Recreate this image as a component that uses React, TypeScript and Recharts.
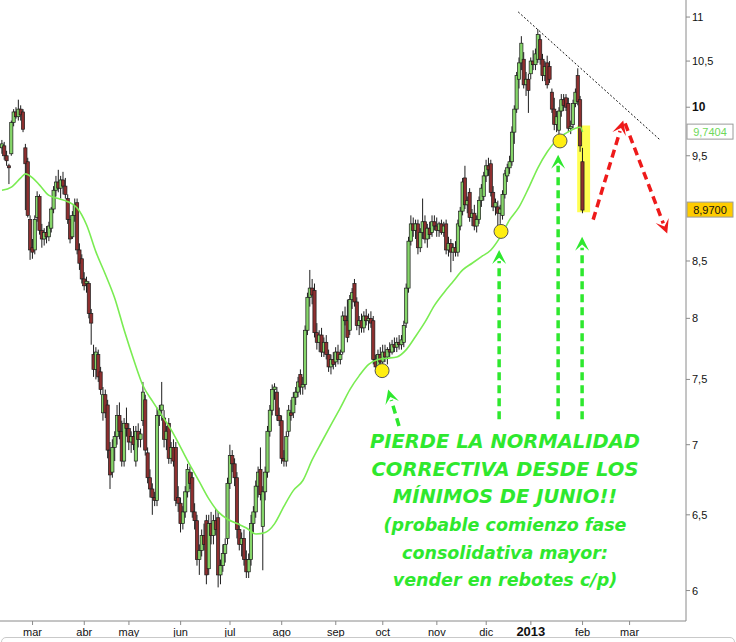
import React from "react";
import {
  ComposedChart,
  Bar,
  Line,
  XAxis,
  YAxis,
  ReferenceLine,
  ReferenceDot,
  ReferenceArea,
} from "recharts";

// trading-day index of each month start, and its label
const tickDays = [13, 35, 54, 76, 97, 119, 142, 162, 185, 206, 225, 247, 267];
const monthLabels = ["mar", "abr", "may", "jun", "jul", "ago", "sep", "oct", "nov", "dic", "2013", "feb", "mar"];
const priceTicks = [6, 6.5, 7, 7.5, 8, 8.5, 9.5, 10, 10.5, 11];

// daily candles (feb 2012 - feb 2013), one value per trading day
const opens = [
  9.58, 9.60, 9.50, 9.40, 9.52, 9.84, 9.95, 9.90, 9.98, 9.95,
  9.58, 9.44, 8.88, 8.62, 8.60, 8.90, 9.10, 8.78, 8.70, 8.76,
  8.72, 8.80, 8.98, 9.16, 9.24, 9.18, 9.26, 9.20, 9.08, 8.88,
  8.72, 8.92, 9.04, 8.60, 8.52, 8.34, 8.30, 8.30, 8.04, 7.70,
  7.58, 7.70, 7.56, 7.24, 7.38, 7.30, 6.96, 6.80, 6.98, 7.06,
  7.22, 7.10, 6.88, 7.16, 7.12, 7.02, 7.06, 6.88, 7.10, 7.04,
  7.18, 7.34, 6.94, 6.76, 6.68, 6.62, 6.60, 7.22, 7.26, 7.20,
  7.04, 7.16, 6.90, 6.98, 6.98, 6.62, 6.58, 6.44, 6.52, 6.66,
  6.80, 6.76, 6.52, 6.46, 6.20, 6.26, 6.36, 6.46, 6.14, 6.44,
  6.36, 6.46, 6.48, 6.10, 6.16, 6.24, 6.34, 6.72, 6.92, 6.86,
  6.76, 6.40, 6.30, 6.34, 6.20, 6.12, 6.20, 6.44, 6.52, 6.70,
  6.82, 6.42, 6.66, 6.80, 7.10, 7.26, 7.42, 7.40, 7.22, 7.18,
  6.90, 6.88, 7.10, 7.24, 7.24, 7.36, 7.40, 7.54, 7.44, 7.46,
  7.90, 8.18, 8.26, 8.24, 7.88, 7.80, 7.86, 7.72, 7.80, 7.70,
  7.60, 7.66, 7.64, 7.72, 7.66, 7.72, 8.02, 7.98, 7.90, 8.16,
  8.30, 8.14, 7.94, 7.98, 7.92, 8.02, 7.98, 8.00, 7.98, 7.66,
  7.60, 7.70, 7.64, 7.72, 7.68, 7.74, 7.72, 7.78, 7.76, 7.80,
  7.78, 7.80, 7.96, 8.26, 8.68, 8.84, 8.78, 8.84, 8.62, 8.76,
  8.86, 8.70, 8.80, 8.76, 8.86, 8.82, 8.78, 8.84, 8.76, 8.84,
  8.60, 8.66, 8.58, 8.62, 8.58, 8.82, 8.96, 9.28, 9.02, 9.14,
  8.90, 8.94, 8.82, 8.88, 9.06, 9.10, 9.30, 9.40, 9.42, 9.14,
  9.00, 9.00, 8.94, 8.92, 9.12, 9.30, 9.38, 9.44, 9.74, 9.98,
  10.30, 10.48, 10.52, 10.24, 10.30, 10.36, 10.50, 10.46, 10.52, 10.74,
  10.52, 10.34, 10.48, 10.44, 10.16, 9.98, 9.82, 9.76, 9.96, 10.08,
  10.10, 10.04, 9.78, 9.82, 10.04, 10.34, 10.08, 9.44,
];
const highs = [
  9.66, 9.64, 9.55, 9.42, 9.86, 9.98, 10.00, 10.08, 10.02, 9.98,
  9.62, 9.48, 8.92, 8.70, 8.92, 9.15, 9.12, 8.84, 8.80, 8.82,
  8.86, 9.00, 9.20, 9.30, 9.36, 9.30, 9.34, 9.28, 9.12, 8.92,
  8.96, 9.08, 9.08, 8.66, 8.56, 8.40, 8.36, 8.32, 8.08, 7.78,
  7.76, 7.74, 7.60, 7.44, 7.42, 7.34, 7.02, 7.04, 7.10, 7.30,
  7.32, 7.18, 7.20, 7.28, 7.16, 7.10, 7.14, 7.14, 7.16, 7.12,
  7.48, 7.38, 6.98, 6.82, 6.72, 6.66, 7.28, 7.30, 7.48, 7.26,
  7.14, 7.20, 7.02, 7.04, 7.02, 6.70, 6.62, 6.56, 6.70, 6.86,
  6.84, 6.80, 6.58, 6.50, 6.30, 6.40, 6.44, 6.50, 6.50, 6.52,
  6.50, 6.54, 6.52, 6.20, 6.30, 6.34, 6.76, 7.00, 6.96, 6.90,
  6.80, 6.44, 6.38, 6.40, 6.26, 6.24, 6.50, 6.56, 6.74, 6.84,
  6.98, 6.70, 6.84, 7.14, 7.30, 7.46, 7.47, 7.44, 7.28, 7.22,
  6.96, 7.10, 7.30, 7.34, 7.40, 7.44, 7.52, 7.58, 7.52, 7.94,
  8.22, 8.42, 8.34, 8.30, 7.96, 7.90, 7.92, 7.84, 7.86, 7.74,
  7.70, 7.72, 7.76, 7.78, 7.74, 8.06, 8.10, 8.16, 8.20, 8.26,
  8.34, 8.18, 8.02, 8.04, 8.06, 8.08, 8.04, 8.06, 8.02, 7.70,
  7.74, 7.76, 7.78, 7.78, 7.76, 7.80, 7.82, 7.84, 7.84, 7.86,
  7.86, 7.98, 8.30, 8.72, 8.92, 8.90, 8.88, 8.88, 8.80, 9.08,
  8.92, 8.84, 8.86, 8.92, 8.92, 8.90, 8.86, 8.88, 8.86, 8.88,
  8.72, 8.70, 8.66, 8.68, 8.88, 9.00, 9.28, 9.40, 9.10, 9.18,
  8.98, 9.02, 8.92, 9.10, 9.22, 9.34, 9.46, 9.48, 9.46, 9.20,
  9.08, 9.06, 9.02, 9.16, 9.36, 9.42, 9.50, 9.80, 10.02, 10.38,
  10.54, 10.78, 10.60, 10.38, 10.36, 10.54, 10.62, 10.64, 10.86, 10.80,
  10.58, 10.50, 10.56, 10.50, 10.20, 10.10, 9.96, 10.00, 10.14, 10.14,
  10.14, 10.10, 9.86, 10.08, 10.20, 10.42, 10.12, 9.58,
];
const lows = [
  9.52, 9.46, 9.40, 9.22, 9.50, 9.80, 9.88, 9.86, 9.86, 9.74,
  8.97, 8.90, 8.51, 8.52, 8.56, 8.86, 8.74, 8.62, 8.64, 8.66,
  8.68, 8.76, 8.94, 9.10, 9.14, 9.08, 9.12, 9.08, 8.84, 8.66,
  8.70, 8.86, 8.56, 8.42, 8.30, 8.24, 8.22, 8.00, 7.78, 7.52,
  7.50, 7.48, 7.38, 7.18, 7.20, 6.90, 6.68, 6.76, 6.88, 7.00,
  7.04, 6.84, 6.84, 7.06, 6.96, 6.94, 6.96, 6.84, 6.98, 6.98,
  7.14, 6.92, 6.72, 6.62, 6.50, 6.56, 6.56, 7.14, 7.18, 6.98,
  6.96, 6.86, 6.86, 6.84, 6.56, 6.52, 6.38, 6.40, 6.48, 6.62,
  6.68, 6.48, 6.40, 6.16, 6.10, 6.22, 6.26, 6.04, 6.10, 6.30,
  6.30, 6.36, 6.02, 6.04, 6.12, 6.18, 6.30, 6.68, 6.80, 6.70,
  6.34, 6.26, 6.22, 6.16, 6.08, 6.08, 6.16, 6.38, 6.48, 6.62,
  6.60, 6.13, 6.60, 6.76, 7.06, 7.22, 7.34, 7.18, 7.14, 6.86,
  6.84, 6.84, 7.06, 7.18, 7.20, 7.30, 7.36, 7.38, 7.38, 7.42,
  7.86, 8.10, 8.12, 7.84, 7.74, 7.72, 7.68, 7.68, 7.66, 7.56,
  7.54, 7.58, 7.60, 7.62, 7.62, 7.70, 7.94, 7.80, 7.86, 8.08,
  8.10, 7.90, 7.86, 7.88, 7.88, 7.94, 7.90, 7.92, 7.62, 7.56,
  7.56, 7.60, 7.60, 7.64, 7.62, 7.68, 7.70, 7.72, 7.72, 7.74,
  7.74, 7.76, 7.92, 8.22, 8.64, 8.72, 8.70, 8.56, 8.58, 8.70,
  8.66, 8.62, 8.70, 8.72, 8.78, 8.72, 8.72, 8.74, 8.72, 8.56,
  8.54, 8.40, 8.50, 8.54, 8.54, 8.78, 8.92, 8.98, 8.94, 8.86,
  8.82, 8.78, 8.76, 8.84, 9.00, 9.06, 9.24, 9.30, 9.10, 8.96,
  8.92, 8.80, 8.84, 8.88, 9.08, 9.24, 9.32, 9.40, 9.62, 9.94,
  10.20, 10.40, 10.20, 10.12, 9.94, 10.30, 10.40, 10.40, 10.48, 10.46,
  10.28, 10.28, 10.20, 10.26, 9.94, 9.76, 9.74, 9.70, 9.90, 9.96,
  9.96, 9.74, 9.72, 9.78, 10.00, 10.02, 9.54, 8.94,
];
const closes = [
  9.62, 9.50, 9.45, 9.38, 9.84, 9.95, 9.90, 9.98, 9.92, 9.77,
  9.42, 8.92, 8.60, 8.58, 8.88, 9.10, 8.78, 8.70, 8.76, 8.72,
  8.82, 8.98, 9.16, 9.24, 9.18, 9.26, 9.20, 9.12, 8.88, 8.70,
  8.92, 9.02, 8.60, 8.48, 8.34, 8.28, 8.32, 8.04, 7.96, 7.58,
  7.72, 7.52, 7.42, 7.38, 7.24, 6.96, 6.78, 6.98, 7.06, 7.22,
  7.10, 6.88, 7.16, 7.12, 7.02, 7.06, 7.00, 7.10, 7.04, 7.08,
  7.40, 6.96, 6.76, 6.68, 6.62, 6.60, 7.22, 7.26, 7.30, 7.04,
  7.10, 6.90, 6.98, 6.88, 6.60, 6.58, 6.44, 6.52, 6.66, 6.82,
  6.72, 6.52, 6.46, 6.20, 6.26, 6.36, 6.30, 6.10, 6.44, 6.36,
  6.46, 6.40, 6.10, 6.16, 6.24, 6.30, 6.72, 6.92, 6.86, 6.76,
  6.40, 6.30, 6.34, 6.20, 6.12, 6.20, 6.44, 6.52, 6.70, 6.80,
  6.64, 6.66, 6.80, 7.10, 7.26, 7.42, 7.44, 7.22, 7.18, 6.90,
  6.88, 7.06, 7.26, 7.22, 7.36, 7.40, 7.48, 7.44, 7.46, 7.90,
  8.18, 8.26, 8.20, 7.88, 7.80, 7.86, 7.72, 7.80, 7.70, 7.60,
  7.66, 7.62, 7.72, 7.66, 7.70, 8.02, 7.98, 7.84, 8.16, 8.22,
  8.14, 7.94, 7.98, 7.92, 8.02, 7.98, 8.00, 7.96, 7.66, 7.60,
  7.70, 7.64, 7.72, 7.68, 7.74, 7.72, 7.78, 7.76, 7.80, 7.78,
  7.82, 7.94, 8.26, 8.68, 8.84, 8.78, 8.84, 8.62, 8.76, 8.86,
  8.70, 8.80, 8.74, 8.86, 8.82, 8.78, 8.84, 8.76, 8.82, 8.60,
  8.66, 8.58, 8.62, 8.58, 8.84, 8.96, 9.24, 9.02, 9.06, 8.90,
  8.94, 8.82, 8.88, 9.06, 9.18, 9.30, 9.40, 9.36, 9.14, 9.00,
  9.04, 8.94, 8.98, 9.12, 9.32, 9.38, 9.44, 9.74, 9.98, 10.34,
  10.48, 10.70, 10.24, 10.30, 10.18, 10.50, 10.46, 10.58, 10.80, 10.52,
  10.34, 10.44, 10.24, 10.30, 9.98, 9.82, 9.90, 9.96, 10.08, 10.02,
  10.00, 9.78, 9.80, 10.04, 10.16, 10.06, 9.60, 8.97,
];

// moving average at these trading days
const maDays = [
  0, 4, 8, 10, 13, 16, 20, 24, 28, 32, 36, 40, 44, 48, 52, 56, 60, 64, 68, 72,
  76, 80, 84, 88, 92, 96, 100, 104, 108, 112, 116, 120, 124, 128, 132, 136, 140,
  144, 148, 152, 156, 160, 164, 168, 172, 176, 180, 184, 188, 192, 196, 200, 204,
  208, 212, 216, 220, 224, 228, 232, 236, 240, 244, 246, 247,
];
const maValues = [
  9.16, 9.19, 9.28, 9.32, 9.28, 9.21, 9.11, 9.08, 9.05, 8.99, 8.83, 8.58, 8.38,
  8.17, 7.90, 7.66, 7.45, 7.33, 7.22, 7.11, 6.98, 6.85, 6.73, 6.61, 6.52, 6.47,
  6.44, 6.41, 6.37, 6.38, 6.44, 6.56, 6.67, 6.74, 6.89, 7.02, 7.15, 7.28, 7.42,
  7.53, 7.62, 7.66, 7.67, 7.68, 7.74, 7.85, 7.97, 8.11, 8.22, 8.32, 8.42, 8.48,
  8.54, 8.60, 8.72, 8.88, 9.00, 9.18, 9.38, 9.54, 9.66, 9.73, 9.78, 9.79, 9.7404,
];

const data = closes.map((c, i) => ({ i, o: opens[i], h: highs[i], l: lows[i], c }));
const maData = maDays.map((d, k) => ({ i: d, ma: maValues[k] }));

const lastClose = closes[closes.length - 1];
const lastMa = maValues[maValues.length - 1];
const fmt = (v: number, d: number) => v.toFixed(d).replace(".", ",");

const X_MAX = 291;
const GREEN = "#2ee82e";
const RED = "#ee1a1a";

const Candle = (props: any) => {
  const { x, y, width, height, payload } = props;
  if (!payload || x == null) return null;
  const top0 = Math.min(y, y + height);
  const hh = Math.abs(height);
  const mid = x + width / 2;
  const lh = Math.log(payload.h);
  const span = lh - Math.log(payload.l);
  const toY = (p: number) => (span > 0 ? top0 + ((lh - Math.log(p)) / span) * hh : top0);
  const bTop = toY(Math.max(payload.o, payload.c));
  const bBot = toY(Math.min(payload.o, payload.c));
  const up = payload.c >= payload.o;
  return (
    <g>
      <line x1={mid} x2={mid} y1={top0} y2={top0 + hh} stroke="#1e1e1e" strokeWidth={1} />
      <rect
        x={mid - 1.6}
        y={bTop}
        width={3.2}
        height={Math.max(1, bBot - bTop)}
        fill={up ? "#86d66a" : "#8e2f2f"}
        stroke="#1c1c1c"
        strokeWidth={0.7}
      />
    </g>
  );
};

const arrowShape = (color: string) => (p: any) => {
  const { x1, y1, x2, y2 } = p;
  const dx = x2 - x1;
  const dy = y2 - y1;
  const len = Math.hypot(dx, dy) || 1;
  const ux = dx / len;
  const uy = dy / len;
  const hl = 14;
  const hw = 7;
  const bx = x2 - ux * hl;
  const by = y2 - uy * hl;
  const nx = -uy;
  const ny = ux;
  return (
    <g>
      <line x1={x1} y1={y1} x2={bx + ux * 3} y2={by + uy * 3} stroke={color} strokeWidth={3.5} strokeDasharray="8 5" />
      <path
        d={`M${x2},${y2} L${bx + nx * hw},${by + ny * hw} L${x2 - ux * hl * 0.55},${y2 - uy * hl * 0.55} L${bx - nx * hw},${by - ny * hw} Z`}
        fill={color}
      />
    </g>
  );
};

const Badge = ({ cx, cy, text, fill, color }: any) => (
  <g>
    <rect x={cx + 1} y={cy - 8} width={46} height={15} fill={fill} stroke="#9a9a9a" strokeWidth={1} />
    <text x={cx + 24} y={cy + 4} textAnchor="middle" fontSize={11} fill={color} fontFamily="Liberation Sans, Arial, sans-serif">
      {text}
    </text>
  </g>
);

const MonthTick = ({ x, y, payload }: any) => {
  const k = tickDays.indexOf(payload.value);
  const label = monthLabels[k] ?? "";
  const bold = label === "2013";
  return (
    <text
      x={x}
      y={y + 9}
      textAnchor="middle"
      fontSize={bold ? 13 : 11}
      fontWeight={bold ? "bold" : "normal"}
      fill="#111"
      fontFamily="Liberation Sans, Arial, sans-serif"
    >
      {label}
    </text>
  );
};

const PriceTick = ({ x, y, payload }: any) => {
  const bold = payload.value === 10;
  return (
    <text
      x={x}
      y={y + 4}
      textAnchor="start"
      fontSize={bold ? 12 : 11}
      fontWeight={bold ? "bold" : "normal"}
      fill="#111"
      fontFamily="Liberation Sans, Arial, sans-serif"
    >
      {Number.isInteger(payload.value) ? String(payload.value) : fmt(payload.value, 1)}
    </text>
  );
};

const noteLines = [
  { text: "PIERDE LA NORMALIDAD", y: 442, size: 19.5 },
  { text: "CORRECTIVA DESDE LOS", y: 470, size: 19.5 },
  { text: "MÍNIMOS DE JUNIO!!", y: 497, size: 19.5 },
  { text: "(probable comienzo fase", y: 525, size: 17.5 },
  { text: "consolidativa mayor:", y: 553, size: 17.5 },
  { text: "vender en rebotes c/p)", y: 580, size: 17.5 },
];

export default function App() {
  return (
    <div style={{ position: "absolute", left: 0, top: 0, width: 736, height: 642, background: "#fff", overflow: "hidden" }}>
      <ComposedChart width={736} height={642} data={data} margin={{ top: 0, right: 0, bottom: 0, left: 0 }}>
        <XAxis
          dataKey="i"
          type="number"
          domain={[-0.85, X_MAX]}
          allowDataOverflow
          ticks={tickDays}
          interval={0}
          tick={<MonthTick />}
          tickSize={4}
          tickMargin={2}
          height={21}
          axisLine={{ stroke: "#8a8a8a" }}
          tickLine={{ stroke: "#8a8a8a" }}
        />
        <YAxis
          orientation="right"
          type="number"
          scale="log"
          domain={[5.81, 11.2]}
          allowDataOverflow
          ticks={priceTicks}
          interval={0}
          tick={<PriceTick />}
          tickSize={4}
          tickMargin={2}
          width={50}
          axisLine={{ stroke: "#8a8a8a" }}
          tickLine={{ stroke: "#8a8a8a" }}
        />
        <ReferenceArea x1={244.7} x2={250.2} y1={8.95} y2={9.81} fill="#ffff33" fillOpacity={0.85} stroke="none" />
        <Bar dataKey={(d: any) => [d.l, d.h]} barSize={3} shape={Candle} isAnimationActive={false} />
        <Line
          data={maData}
          dataKey="ma"
          type="monotone"
          stroke="#7aec52"
          strokeWidth={1.6}
          dot={false}
          activeDot={false}
          isAnimationActive={false}
        />
        <ReferenceLine
          segment={[{ x: 219.6, y: 11.06 }, { x: 280, y: 9.66 }]}
          stroke="#111"
          strokeWidth={1}
          strokeDasharray="2 2"
          ifOverflow="visible"
        />
        <ReferenceLine segment={[{ x: 168.9, y: 7.14 }, { x: 164.3, y: 7.42 }]} shape={arrowShape(GREEN)} ifOverflow="visible" />
        <ReferenceLine segment={[{ x: 211.5, y: 7.19 }, { x: 211.5, y: 8.6 }]} shape={arrowShape(GREEN)} ifOverflow="visible" />
        <ReferenceLine segment={[{ x: 236.6, y: 7.19 }, { x: 236.6, y: 9.51 }]} shape={arrowShape(GREEN)} ifOverflow="visible" />
        <ReferenceLine segment={[{ x: 246.8, y: 7.19 }, { x: 246.8, y: 8.72 }]} shape={arrowShape(GREEN)} ifOverflow="visible" />
        <ReferenceLine segment={[{ x: 251.5, y: 8.88 }, { x: 264.3, y: 9.86 }]} shape={arrowShape(RED)} ifOverflow="visible" />
        <ReferenceLine segment={[{ x: 265.1, y: 9.83 }, { x: 283, y: 8.75 }]} shape={arrowShape(RED)} ifOverflow="visible" />
        <ReferenceDot x={161.7} y={7.57} r={7} fill="#ffee11" stroke="#555" strokeWidth={1} />
        <ReferenceDot x={212.3} y={8.77} r={7} fill="#ffee11" stroke="#555" strokeWidth={1} />
        <ReferenceDot x={237.4} y={9.65} r={7} fill="#ffee11" stroke="#555" strokeWidth={1} />
        <ReferenceDot
          x={X_MAX}
          y={lastMa}
          ifOverflow="visible"
          shape={(p: any) => <Badge cx={p.cx} cy={p.cy} text={fmt(lastMa, 4)} fill="#fff" color="#6fd85a" />}
        />
        <ReferenceDot
          x={X_MAX}
          y={lastClose}
          ifOverflow="visible"
          shape={(p: any) => <Badge cx={p.cx} cy={p.cy} text={fmt(lastClose, 4)} fill="#ffcc00" color="#111" />}
        />
      </ComposedChart>
      {noteLines.map((n) => (
        <div
          key={n.text}
          style={{
            position: "absolute",
            left: 205,
            width: 600,
            top: n.y - 12,
            lineHeight: "24px",
            textAlign: "center",
            fontFamily: "DejaVu Sans, Verdana, sans-serif",
            fontWeight: "bold",
            fontStyle: "italic",
            fontSize: n.size,
            color: GREEN,
            whiteSpace: "nowrap",
          }}
        >
          {n.text}
        </div>
      ))}
      <div
        style={{
          position: "absolute",
          left: 1,
          top: 637,
          width: 732,
          height: 10,
          border: "1px solid #c9c9c9",
          borderRadius: 5,
        }}
      />
    </div>
  );
}
